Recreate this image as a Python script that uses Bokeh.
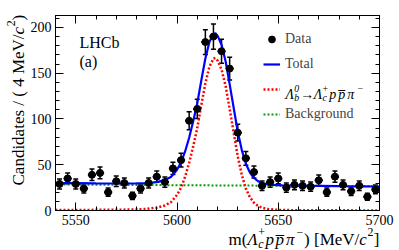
from math import pi
import numpy as np
from bokeh.plotting import figure
from bokeh.models import (ColumnDataSource, Range1d, LinearAxis, SingleIntervalTicker,
                          Whisker, TeeHead, Legend, LegendItem)
from bokeh.core.properties import value
from bokeh.embed import file_html
from bokeh.resources import INLINE

# ---------------- data ----------------
bin_centers = [5542, 5546, 5550, 5554, 5558, 5562, 5566, 5570, 5574, 5578,
               5582, 5586, 5590, 5594, 5598, 5602, 5606, 5610, 5614, 5618,
               5622, 5626, 5630, 5634, 5638, 5642, 5646, 5650, 5654, 5658,
               5662, 5666, 5670, 5674, 5678, 5682, 5686, 5690, 5694, 5698]
counts = [29, 35, 29, 24, 39, 41, 20, 32, 30, 16,
          24, 30, 37, 31, 46, 55, 98, 111, 184, 190,
          174, 155, 85, 57, 42, 27, 31, 35, 25, 28,
          27, 26, 33, 20, 37, 28, 21, 27, 15, 23]
bin_width = 4

curve_mass = [5540, 5550, 5560, 5570, 5580, 5585, 5590, 5594, 5597, 5600,
              5602, 5604, 5606, 5608, 5610, 5612, 5614, 5616, 5618, 5619,
              5620, 5622, 5624, 5626, 5628, 5630, 5632, 5634, 5636, 5638,
              5640, 5642, 5645, 5648, 5652, 5660, 5670, 5680, 5690, 5700]
total_fit = [30.0, 29.8, 29.6, 29.5, 29.6, 30.0, 31.0, 33.2, 36.5, 44.5,
             52.5, 64.5, 79.5, 97.5, 117.0, 142.0, 166.0, 184.0, 193.0, 193.5,
             191.0, 181.0, 163.0, 138.0, 112.0, 86.0, 66.0, 51.0, 41.5, 35.5,
             32.0, 30.0, 28.6, 27.9, 27.5, 27.2, 26.9, 26.6, 26.4, 26.2]
signal_fit = [0.6, 0.6, 0.7, 0.8, 1.2, 1.8, 3.0, 5.5, 9.0, 17.0,
              25.0, 37.0, 52.0, 70.0, 90.0, 115.0, 139.0, 157.0, 166.0, 166.5,
              164.0, 154.0, 136.0, 111.0, 85.0, 59.0, 39.0, 24.0, 14.5, 8.5,
              5.0, 3.0, 1.6, 0.9, 0.5, 0.3, 0.2, 0.2, 0.1, 0.1]
bkg_mass = [5540, 5700]
bkg_fit = [28.4, 26.4]

legend_labels = ["Data", "Total", "", "Background"]
x_lo, x_hi = 5540, 5700
y_lo, y_hi = 0, 213
x_ticks_interval = 50
y_ticks_interval = 50

FONT = "Liberation Serif"

# ---------------- figure ----------------
p = figure(width=399, height=250, x_range=Range1d(x_lo, x_hi), y_range=Range1d(y_lo, y_hi),
           output_backend="svg", toolbar_location=None,
           min_border_left=55, min_border_right=20, min_border_top=15, min_border_bottom=40,
           background_fill_color="white", border_fill_color="white",
           outline_line_color="black", outline_line_width=1)
p.grid.visible = False

xt = SingleIntervalTicker(interval=x_ticks_interval, num_minor_ticks=5)
yt = SingleIntervalTicker(interval=y_ticks_interval, num_minor_ticks=5)
p.xaxis.ticker = xt
p.yaxis.ticker = yt


def style_axis(ax, labels=True):
    ax.major_tick_in = 8
    ax.major_tick_out = 0
    ax.minor_tick_in = 4
    ax.minor_tick_out = 0
    ax.axis_line_color = "black"
    ax.major_tick_line_color = "black"
    ax.minor_tick_line_color = "black"
    ax.major_label_text_font = FONT
    if labels:
        ax.major_label_text_color = "black"
        ax.major_label_text_font_size = "14px"
        ax.major_label_standoff = 4
    else:
        ax.major_label_text_color = None
        ax.major_label_text_font_size = "1px"
        ax.major_label_standoff = 0


style_axis(p.xaxis[0])
style_axis(p.yaxis[0])
top_ax = LinearAxis(ticker=xt)
style_axis(top_ax, labels=False)
p.add_layout(top_ax, "above")
right_ax = LinearAxis(ticker=yt)
style_axis(right_ax, labels=False)
p.add_layout(right_ax, "right")

# ---------------- fit curves ----------------
bkg_r = p.line(bkg_mass, bkg_fit, line_color="#00a000", line_width=2, line_dash="2 2")
sig_r = p.line(curve_mass, signal_fit, line_color="#ff0000", line_width=2.5, line_dash="2 2")
tot_r = p.line(curve_mass, total_fit, line_color="#0000ff", line_width=2.2)

# ---------------- data points ----------------
cnt = np.array(counts, dtype=float)
xc = np.array(bin_centers, dtype=float)
err = np.sqrt(cnt)
src = ColumnDataSource(dict(x=xc, y=cnt, lo=cnt - err, hi=cnt + err,
                            xl=xc - bin_width / 2, xh=xc + bin_width / 2))
p.add_layout(Whisker(base="x", upper="hi", lower="lo", dimension="height", source=src,
                     line_color="black", line_width=1.5,
                     upper_head=TeeHead(size=5, line_width=1.5, line_color="black"),
                     lower_head=TeeHead(size=5, line_width=1.5, line_color="black")))
p.add_layout(Whisker(base="y", upper="xh", lower="xl", dimension="width", source=src,
                     line_color="black", line_width=2, upper_head=None, lower_head=None))
pts = p.scatter("x", "y", source=src, size=7, color="black")

# ---------------- legend ----------------
legend = Legend(items=[LegendItem(label=legend_labels[0], renderers=[pts]),
                       LegendItem(label=legend_labels[1], renderers=[tot_r]),
                       LegendItem(label=" ", renderers=[sig_r]),
                       LegendItem(label=legend_labels[3], renderers=[bkg_r])],
                location=(208, 86), orientation="vertical", padding=0, margin=0,
                spacing=5, glyph_height=20, glyph_width=17, label_height=20,
                label_standoff=5, label_text_font=FONT, label_text_font_size="14px",
                border_line_color=None, background_fill_alpha=0)
p.add_layout(legend)

# ---------------- rich text (one text glyph, drawn unclipped at overlay level) ----------------
W_REG = {' ': 250, '(': 333, ')': 333, '[': 333, ']': 333, '/': 278, '+': 564, '\u2212': 564,
         '\u2192': 1000, 'm': 778, 'M': 889, 'e': 444, 'V': 722, 'C': 667, 'a': 444, 'n': 500,
         'd': 500, 'i': 278, 't': 278, 's': 389, 'c': 444, 'p': 500, 'b': 500, 'L': 611,
         'H': 722}
W_IT = {'\u039b': 611, 'p': 500, 'c': 444, 'b': 500, '\u03c0': 520, '\u0305': 0}


def tw(s, size, italic):
    tab = W_IT if italic else W_REG
    tot = 0
    for ch in s:
        if ch.isdigit():
            tot += 500
        else:
            tot += tab.get(ch, W_REG.get(ch, 500))
    return tot / 1000.0 * size


def runs_width(items, base):
    return sum(max(tw(t, base * sc, it) for (t, sc, it, r) in pcs) + gap for pcs, gap in items)


txt = dict(x=[], y=[], xo=[], yo=[], text=[], size=[], style=[], angle=[])


# anchor (ax, ay) in data units; (dx, dy) pixel offsets from it (dy upward)
def place(items, ax, ay, dx, dy, base, vertical=False):
    adv = 0.0
    for pcs, gap in items:
        w = 0.0
        for (t, sc, it, r) in pcs:
            size = base * sc
            if vertical:
                ox, oy, ang = dx - r * base, dy + adv, pi / 2
            else:
                ox, oy, ang = dx + adv, dy + r * base, 0.0
            txt["x"].append(ax)
            txt["y"].append(ay)
            txt["xo"].append(ox)
            txt["yo"].append(-oy)          # text glyph y_offset is downward
            txt["text"].append(t)
            txt["size"].append(f"{size:.1f}px")
            txt["style"].append("italic" if it else "normal")
            txt["angle"].append(ang)
            w = max(w, tw(t, size, it))
        adv += w + gap


SUP, SUB, SS = 0.42, -0.24, 0.7

# x axis title: m(Λc+ p p̄ π−) [MeV/c2], right-aligned to frame right
xtitle = [
    ([("m(", 1, False, 0)], 0),
    ([("\u039b", 1, True, 0)], 0.5),
    ([("+", SS, False, SUP), ("c", SS, True, SUB)], 0.5),
    ([("p", 1, True, 0)], 1.5),
    ([("p\u0305", 1, True, 0)], 2),
    ([("\u03c0", 1, True, 0)], 1.5),
    ([("\u2212", SS, False, SUP)], 1),
    ([(") [MeV/", 1, False, 0)], 0),
    ([("c", 1, True, 0)], 0.5),
    ([("2", SS, False, SUP)], 0.5),
    ([("]", 1, False, 0)], 0),
]
XB = 17
place(xtitle, x_hi, y_lo, -runs_width(xtitle, XB), -29, XB)

# y axis title (rotated): Candidates / ( 4 MeV/c2 )
ytitle = [
    ([("Candidates / ( 4 MeV/", 1, False, 0)], 0),
    ([("c", 1, True, 0)], 0.5),
    ([("2", SS, False, SUP)], 0),
    ([(" )", 1, False, 0)], 0),
]
place(ytitle, x_lo, y_lo, -37, 25, 17, vertical=True)

# legend signal label: Λb0 → Λc+ p p̄ π−
leg_sig = [
    ([("\u039b", 1, True, 0)], 0.3),
    ([("0", SS, True, SUP), ("b", SS, True, SUB)], 1),
    ([("\u2192", 1, False, 0)], -0.5),
    ([("\u039b", 1, True, 0)], 0.3),
    ([("+", SS, False, SUP), ("c", SS, True, SUB)], 1),
    ([("p", 1, True, 0)], 2),
    ([("p\u0305", 1, True, 0)], 2),
    ([("\u03c0", 1, True, 0)], 3),
    ([("\u2212", SS, False, SUP)], 0),
]
place(leg_sig, x_lo, y_hi, 230, -(74 + 4.5), 14)

# experiment label
place([([("LHCb", 1, False, 0)], 0)], x_lo, y_hi, 24, -27, 16)
place([([("(a)", 1, False, 0)], 0)], x_lo, y_hi, 24, -46, 16)

tsrc = ColumnDataSource(txt)
p.text(x="x", y="y", x_offset="xo", y_offset="yo", text="text", angle="angle",
       text_font=value(FONT), text_font_size="size", text_font_style="style",
       text_color="black", text_baseline="alphabetic", text_align="left",
       source=tsrc, level="overlay")

open("out.html", "w").write(file_html(p, INLINE))
